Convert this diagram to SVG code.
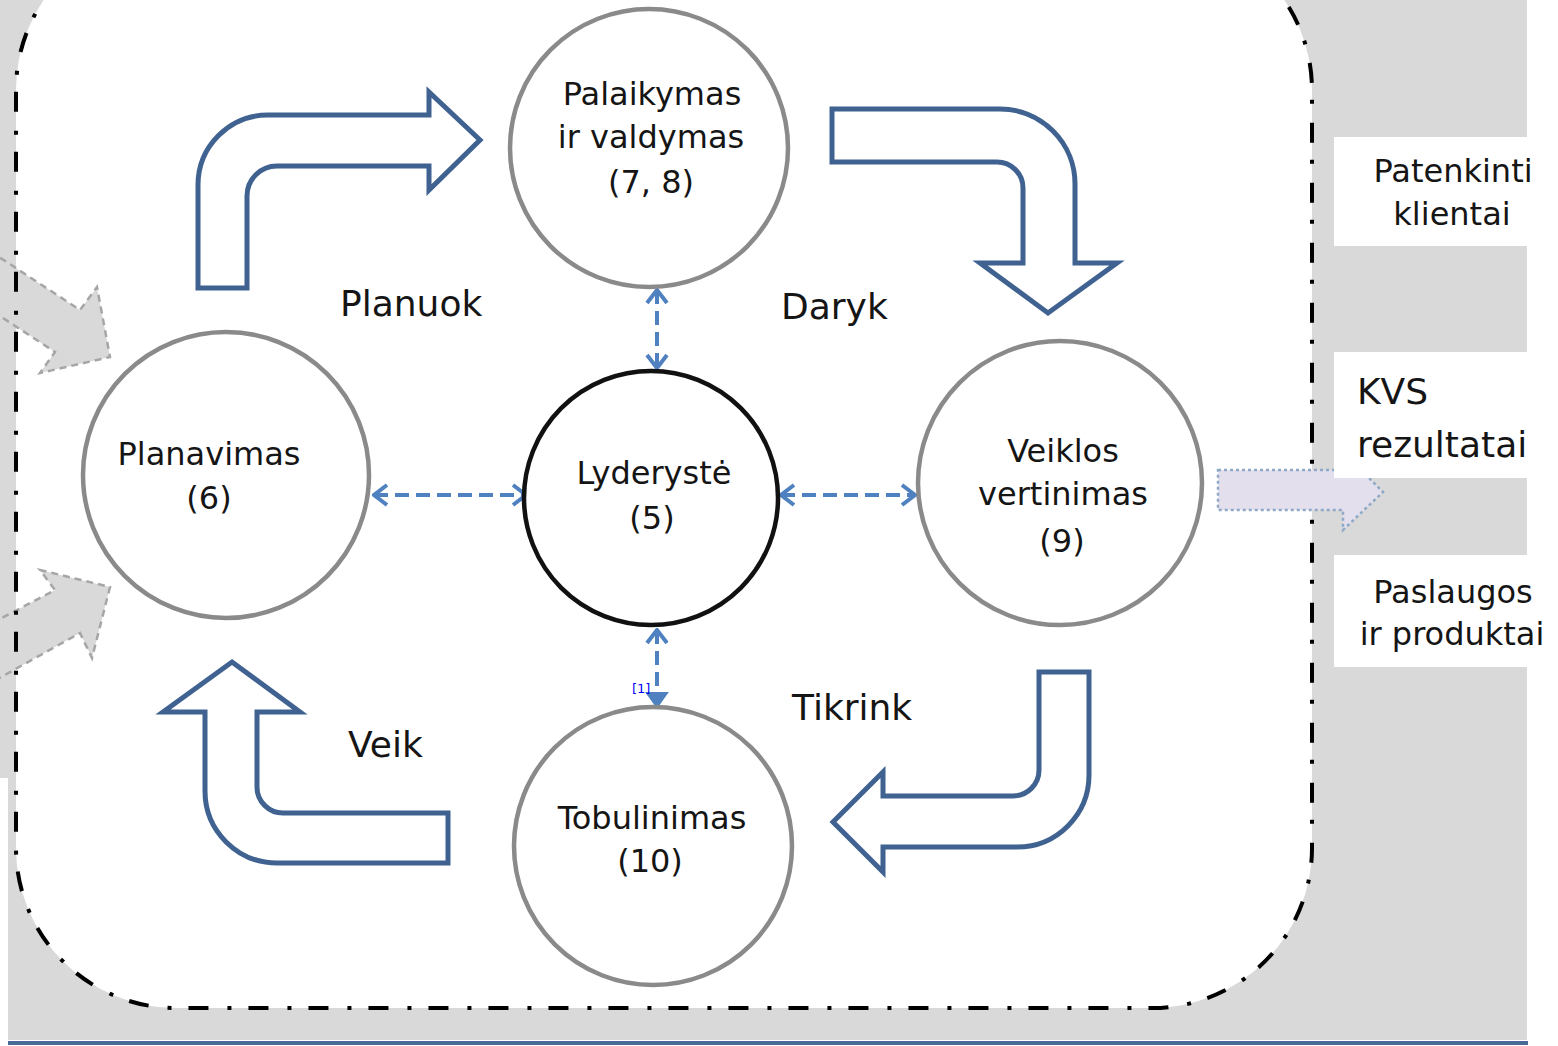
<svg xmlns="http://www.w3.org/2000/svg" width="1558" height="1046" viewBox="0 0 1558 1046">
<style>
  .node { fill: #ffffff; stroke: #8a8a8a; stroke-width: 4.5; }
  .lead { fill: #ffffff; stroke: #111111; stroke-width: 4.5; }
  .t { font-family: "DejaVu Sans", Verdana, sans-serif; font-size: 32px; fill: #151515; text-anchor: middle; }
  .lbl { font-family: "DejaVu Sans", Verdana, sans-serif; font-size: 36px; fill: #151515; }
  .bent { fill: #ffffff; stroke: #3f6291; stroke-width: 5; stroke-linejoin: miter; }
  .grey { fill: #d9d9d9; stroke: #a6a6a6; stroke-width: 2.5; stroke-dasharray: 7 5; }
  .conn { fill: none; stroke: #4f81c0; stroke-width: 4; stroke-dasharray: 14 7; }
  .box { fill: #ffffff; }
</style>
<defs>
  <marker id="chev" viewBox="0 0 18 24" refX="16" refY="12" markerWidth="18" markerHeight="24" markerUnits="userSpaceOnUse" orient="auto-start-reverse">
    <path d="M3,2 L16,12 L3,22" fill="none" stroke="#4f81c0" stroke-width="4"/>
  </marker>
  <marker id="tri" viewBox="0 0 18 24" refX="16" refY="12" markerWidth="18" markerHeight="24" markerUnits="userSpaceOnUse" orient="auto">
    <path d="M2,2 L16,12 L2,22 Z" fill="#4f81c0" stroke="#4f81c0" stroke-width="2"/>
  </marker>
</defs>

<!-- background -->
<rect x="0" y="0" width="1527" height="1040" fill="#d9d9d9"/>
<rect x="0" y="778" width="8" height="268" fill="#ffffff"/>
<line x1="8" y1="1043" x2="1528" y2="1043" stroke="#4a6a96" stroke-width="4"/>

<!-- main frame fill -->
<rect x="16" y="-70" width="1296" height="1078" rx="160" ry="160" fill="#ffffff"/>

<!-- input grey arrows -->
<g id="input-arrows">
  <path class="grey" d="M-30,238 L80,310 L97,287 L110,357 L40,373 L55,352 L-40,290 Z"/>
  <path class="grey" d="M-40,640 L55,590 L40,570 L110,587 L92,658 L80,633 L-40,700 Z"/>
</g>

<!-- frame border -->
<rect x="16" y="-70" width="1296" height="1078" rx="160" ry="160" fill="none" stroke="#000000" stroke-width="4" stroke-dasharray="20 17 4 19"/>

<!-- output arrow -->
<g id="output-arrow">
  <path d="M1218,470 L1343,470 L1343,452 L1383,492 L1343,530 L1343,510 L1218,510 Z" fill="#e4dfec" stroke="#8ea9c8" stroke-width="2.5" stroke-dasharray="3 3"/>
</g>

<!-- right boxes -->
<g id="box-klientai">
  <rect class="box" x="1334" y="137" width="224" height="109"/>
  <text class="t" x="1453" y="182">Patenkinti</text>
  <text class="t" x="1452" y="225">klientai</text>
</g>
<g id="box-kvs">
  <rect class="box" x="1334" y="352" width="224" height="126"/>
  <text class="lbl" x="1357" y="404">KVS</text>
  <text class="lbl" x="1357" y="457">rezultatai</text>
</g>
<g id="box-paslaugos">
  <rect class="box" x="1334" y="555" width="224" height="112"/>
  <text class="t" x="1453" y="603">Paslaugos</text>
  <text class="t" x="1452" y="645">ir produktai</text>
</g>

<!-- bent cycle arrows -->
<g id="cycle-arrows">
  <path class="bent" d="M198,288 L198,185 A70,70 0 0 1 268,115 L429,115 L429,92 L480,140 L429,190 L429,166 L277,166 A30,30 0 0 0 247,196 L247,288 Z"/>
  <path class="bent" d="M832,109 L1000,109 A75,75 0 0 1 1075,184 L1075,263 L1117,263 L1048,313 L980,263 L1023,263 L1023,188 A26,26 0 0 0 997,162 L832,162 Z"/>
  <path class="bent" d="M1039,672 L1089,672 L1089,775 A72,72 0 0 1 1017,847 L883,847 L883,872 L833,822 L883,772 L883,796 L1013,796 A26,26 0 0 0 1039,770 Z"/>
  <path class="bent" d="M232,662 L300,712 L257,712 L257,787 A26,26 0 0 0 283,813 L448,813 L448,863 L277,863 A72,72 0 0 1 205,791 L205,712 L163,712 Z"/>
</g>

<!-- cycle labels -->
<g id="labels">
  <text class="lbl" x="340" y="316">Planuok</text>
  <text class="lbl" x="781" y="319">Daryk</text>
  <text class="lbl" x="792" y="720">Tikrink</text>
  <text class="lbl" x="348" y="757">Veik</text>
</g>

<!-- connectors -->
<g id="connectors">
  <line class="conn" x1="374" y1="495" x2="526" y2="495" marker-start="url(#chev)" marker-end="url(#chev)"/>
  <line class="conn" x1="781" y1="495" x2="915" y2="495" marker-start="url(#chev)" marker-end="url(#chev)"/>
  <line class="conn" x1="657" y1="290" x2="657" y2="368" marker-start="url(#chev)" marker-end="url(#chev)"/>
  <line class="conn" x1="657" y1="630" x2="657" y2="707" marker-start="url(#chev)" marker-end="url(#tri)"/>
  <text x="632" y="693" font-family="DejaVu Sans, sans-serif" font-size="13" fill="#0000ff">[1]</text>
</g>

<!-- nodes -->
<g id="node-palaikymas">
  <circle class="node" cx="649" cy="148" r="139"/>
  <text class="t" x="652" y="105">Palaikymas</text>
  <text class="t" x="651" y="148">ir valdymas</text>
  <text class="t" x="651" y="193">(7, 8)</text>
</g>
<g id="node-planavimas">
  <circle class="node" cx="226" cy="475" r="143"/>
  <text class="t" x="209" y="465">Planavimas</text>
  <text class="t" x="209" y="509">(6)</text>
</g>
<g id="node-lyderyste">
  <circle class="lead" cx="651" cy="498" r="127"/>
  <text class="t" x="654" y="484">Lyderystė</text>
  <text class="t" x="652" y="529">(5)</text>
</g>
<g id="node-veiklos">
  <circle class="node" cx="1060" cy="483" r="142"/>
  <text class="t" x="1063" y="462">Veiklos</text>
  <text class="t" x="1063" y="505">vertinimas</text>
  <text class="t" x="1062" y="552">(9)</text>
</g>
<g id="node-tobulinimas">
  <circle class="node" cx="653" cy="846" r="139"/>
  <text class="t" x="652" y="829">Tobulinimas</text>
  <text class="t" x="650" y="872">(10)</text>
</g>
</svg>
